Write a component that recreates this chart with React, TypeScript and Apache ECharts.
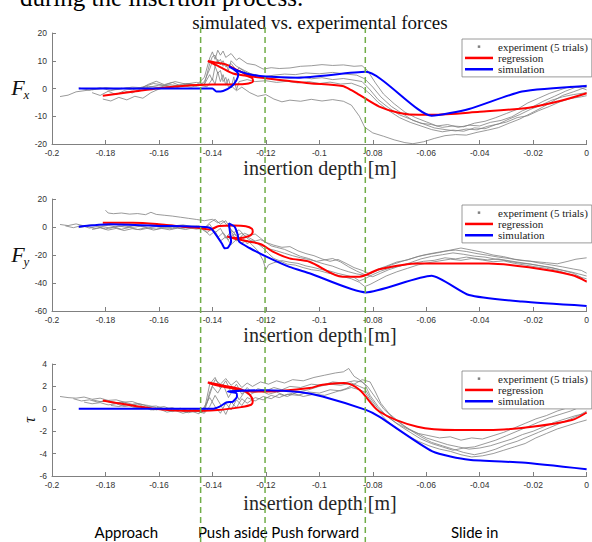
import React, { useEffect, useRef } from 'react';
import * as echarts from 'echarts';

// ---------- axes ----------
const xTicks = { min: -0.2, max: 0, interval: 0.02 };
const yAxesCfg = [
  { min: -20, max: 20, interval: 10 },
  { min: -60, max: 20, interval: 20 },
  { min: -6, max: 4, interval: 2 },
];
const phaseBoundaries = [-0.1444, -0.1203, -0.0828];
const phaseLabels = ['Approach', 'Push aside', 'Push forward', 'Slide in'];
const xLabelText = 'insertion depth [m]';
const titleText = 'simulated vs. experimental forces';
const legendNames = ['experiment (5 trials)', 'regression', 'simulation'];

// ---------- Fx panel ----------
const fxTrial1 = [[-0.185,-0.5],[-0.18,0.3],[-0.175,-0.2],[-0.17,0.5],[-0.165,0.2],[-0.16,1.2],[-0.155,0.8],[-0.15,1.8],[-0.146,1.2],[-0.143,4],[-0.141,11],[-0.14,13.2],[-0.139,10.5],[-0.138,13.8],[-0.137,12],[-0.136,13.5],[-0.135,11.2],[-0.133,12.6],[-0.131,10.2],[-0.13,11],[-0.127,9],[-0.124,8.5],[-0.121,7],[-0.118,7.5],[-0.115,7.2],[-0.111,7.4],[-0.107,8],[-0.103,8.2],[-0.099,8.6],[-0.095,8.3],[-0.091,8.5],[-0.087,8.0],[-0.084,8.2],[-0.082,6.5],[-0.079,2],[-0.076,-2],[-0.072,-5.5],[-0.068,-8.5],[-0.064,-10.5],[-0.06,-12],[-0.056,-13.5],[-0.052,-13],[-0.048,-14],[-0.044,-13.2],[-0.04,-13.5],[-0.036,-12.2],[-0.032,-11.5],[-0.028,-10.2],[-0.024,-8],[-0.02,-6.5],[-0.016,-4.5],[-0.012,-2.8],[-0.008,-1],[-0.004,0.5],[0,1.2]];
const fxTrial2 = [[-0.197,-2.9],[-0.194,-2.4],[-0.191,-1.2],[-0.188,-0.8],[-0.184,-0.3],[-0.18,0.1],[-0.176,-0.4],[-0.172,0.2],[-0.168,-0.2],[-0.164,0.8],[-0.16,0.4],[-0.156,1.4],[-0.152,0.9],[-0.148,1.6],[-0.145,1.0],[-0.143,2.5],[-0.141,7],[-0.14,9.8],[-0.139,8],[-0.138,10.5],[-0.137,8.5],[-0.136,10],[-0.135,7.8],[-0.133,9],[-0.131,6.5],[-0.13,7.4],[-0.127,5.5],[-0.124,5.0],[-0.121,4.2],[-0.117,4.8],[-0.113,5.2],[-0.109,5.0],[-0.105,5.6],[-0.1,5.3],[-0.095,5.8],[-0.09,5.2],[-0.086,4.8],[-0.083,3.5],[-0.08,0.5],[-0.077,-3],[-0.073,-6.5],[-0.069,-9],[-0.065,-11.5],[-0.061,-12.8],[-0.057,-14.2],[-0.053,-14.8],[-0.049,-15.3],[-0.045,-14.6],[-0.041,-14.9],[-0.037,-13.6],[-0.033,-12.8],[-0.029,-11],[-0.025,-9.4],[-0.021,-7.5],[-0.017,-6],[-0.013,-4.2],[-0.009,-3],[-0.005,-2.2],[0,-1.5]];
const fxTrial3 = [[-0.181,-3.8],[-0.178,-4.5],[-0.175,-3.2],[-0.172,-4.1],[-0.169,-2.8],[-0.166,-3.5],[-0.163,-1.5],[-0.16,-0.2],[-0.157,0.6],[-0.154,0.1],[-0.151,1.0],[-0.148,0.5],[-0.145,1.2],[-0.142,0.6],[-0.14,3.5],[-0.139,1.5],[-0.138,6],[-0.137,2.5],[-0.136,5],[-0.135,1.2],[-0.134,3.5],[-0.133,0.2],[-0.132,4.2],[-0.131,-0.5],[-0.13,2.5],[-0.127,3.2],[-0.124,2.5],[-0.12,2.8],[-0.116,2.2],[-0.112,2.6],[-0.108,2.0],[-0.104,2.5],[-0.1,1.8],[-0.096,2.3],[-0.092,1.6],[-0.088,1.9],[-0.084,0.5],[-0.081,-2],[-0.078,-5],[-0.074,-8],[-0.07,-10.5],[-0.066,-12.2],[-0.062,-13.5],[-0.058,-14.8],[-0.054,-15.6],[-0.05,-15],[-0.046,-15.4],[-0.042,-14.2],[-0.038,-14.5],[-0.034,-13],[-0.03,-12.1],[-0.026,-10.5],[-0.022,-9.8],[-0.018,-8],[-0.014,-6.5],[-0.01,-4.8],[-0.006,-3.6],[-0.002,-3],[0,-2.6]];
const fxTrial4 = [[-0.19,0.2],[-0.186,-0.6],[-0.182,0.3],[-0.178,-0.8],[-0.174,0.1],[-0.17,-0.5],[-0.166,0.6],[-0.162,1.8],[-0.158,1.2],[-0.154,2.5],[-0.15,1.6],[-0.146,2.2],[-0.143,1.5],[-0.141,5],[-0.14,3],[-0.139,8],[-0.138,5.5],[-0.137,6.5],[-0.136,2.5],[-0.135,4],[-0.134,0.5],[-0.133,1],[-0.131,-0.8],[-0.129,0.5],[-0.126,-1.5],[-0.123,-2.8],[-0.12,-2.2],[-0.117,-3.8],[-0.114,-4.8],[-0.111,-4.2],[-0.107,-4.6],[-0.103,-3.9],[-0.099,-4.5],[-0.095,-4.0],[-0.091,-4.6],[-0.088,-6],[-0.085,-10],[-0.083,-14],[-0.08,-16],[-0.076,-17.2],[-0.072,-18.5],[-0.068,-19.5],[-0.065,-19.9],[-0.061,-19.2],[-0.057,-18],[-0.053,-17],[-0.049,-16.6],[-0.045,-16.8],[-0.041,-15.8],[-0.037,-15],[-0.033,-14.1],[-0.029,-12.5],[-0.025,-11],[-0.021,-9],[-0.017,-7],[-0.013,-4.8],[-0.009,-2.5],[-0.005,-1.2],[-0.001,0.2],[0,0.4]];
const fxTrial5 = [[-0.185,-1.5],[-0.182,-2.5],[-0.179,-1.0],[-0.176,-2.2],[-0.173,-0.8],[-0.17,-1.6],[-0.167,-0.2],[-0.164,1.5],[-0.161,2.6],[-0.158,1.4],[-0.155,2.2],[-0.152,1.0],[-0.149,1.8],[-0.146,0.8],[-0.143,1.5],[-0.141,9],[-0.14,11.5],[-0.139,12],[-0.138,9.5],[-0.137,10.5],[-0.136,8],[-0.135,9],[-0.134,6.5],[-0.133,10],[-0.131,8],[-0.128,6.5],[-0.125,5],[-0.122,4.4],[-0.119,3.6],[-0.115,4.0],[-0.111,3.7],[-0.107,4.2],[-0.103,3.5],[-0.099,3.9],[-0.095,3.2],[-0.091,3.6],[-0.087,3.0],[-0.084,2.5],[-0.081,-0.5],[-0.078,-4],[-0.074,-7],[-0.07,-9.5],[-0.066,-11],[-0.062,-12.5],[-0.058,-13],[-0.054,-14],[-0.05,-13.5],[-0.046,-13.8],[-0.042,-12.5],[-0.038,-11.8],[-0.034,-10.5],[-0.03,-9],[-0.026,-7.5],[-0.022,-5.2],[-0.018,-3.5],[-0.014,-1.8],[-0.01,-0.5],[-0.006,0.8],[-0.002,0.2],[0,-0.5]];
const fxRegression = [[-0.181,-2.6],[-0.17,-1.2],[-0.16,0.1],[-0.15,1.0],[-0.14,1.4],[-0.13,1.5],[-0.1265,1.8],[-0.1248,2.6],[-0.1252,3.8],[-0.128,4.7],[-0.1323,5.4],[-0.1365,7.4],[-0.1385,8.4],[-0.1417,9.9],[-0.139,9.4],[-0.1348,8.6],[-0.13,6.3],[-0.1249,4.3],[-0.12,3.7],[-0.1112,2.7],[-0.1037,1.9],[-0.0914,0.9],[-0.088,-0.6],[-0.085,-2.3],[-0.0776,-6.5],[-0.07,-8.8],[-0.0627,-9.5],[-0.058,-9.5],[-0.04,-8.4],[-0.0216,-6.9],[-0.01,-4.5],[0,-1.7]];
const fxSimulation = [[-0.19,0],[-0.16,0],[-0.14,0],[-0.1385,-1.1],[-0.136,-0.9],[-0.133,0.6],[-0.131,3.0],[-0.1303,5.3],[-0.1322,7.0],[-0.1338,8.0],[-0.131,6.6],[-0.127,5.3],[-0.12,4.3],[-0.108,3.9],[-0.0826,6.0],[-0.058,-9.8],[-0.044,-7.4],[-0.0242,-1.1],[0,0.9]];

// ---------- Fy panel ----------
const fyTrial1 = [[-0.18,12],[-0.179,10],[-0.177,9.5],[-0.174,10],[-0.171,9.2],[-0.168,9.6],[-0.165,8.8],[-0.163,10.5],[-0.161,9.0],[-0.158,8.4],[-0.155,7.8],[-0.152,7.0],[-0.149,6.2],[-0.146,5.4],[-0.143,4.5],[-0.14,5.5],[-0.138,3],[-0.136,4.5],[-0.134,0],[-0.132,-4],[-0.13,-2],[-0.128,-6],[-0.126,-8],[-0.124,-10],[-0.122,-9],[-0.12,-11],[-0.117,-13],[-0.114,-14.5],[-0.111,-14],[-0.108,-17],[-0.105,-19],[-0.102,-20.5],[-0.099,-22.8],[-0.096,-24.5],[-0.093,-23.2],[-0.09,-26],[-0.087,-29],[-0.084,-31],[-0.081,-33.5],[-0.078,-30],[-0.075,-28],[-0.071,-25],[-0.067,-23.5],[-0.063,-21],[-0.059,-19.5],[-0.055,-18.2],[-0.051,-16.5],[-0.047,-15],[-0.043,-16.5],[-0.039,-18],[-0.035,-20],[-0.031,-21.2],[-0.027,-23],[-0.023,-24],[-0.019,-24.8],[-0.015,-25.5],[-0.011,-26.3],[-0.007,-24.5],[-0.004,-23],[0,-22]];
const fyTrial2 = [[-0.197,1.8],[-0.194,1.0],[-0.191,2.2],[-0.188,0.8],[-0.185,1.6],[-0.182,0.5],[-0.179,1.2],[-0.176,0],[-0.173,0.9],[-0.17,-0.3],[-0.167,0.5],[-0.164,-0.6],[-0.161,0.2],[-0.158,-0.8],[-0.155,-0.2],[-0.152,-1.0],[-0.149,-0.5],[-0.146,-1.5],[-0.143,-0.8],[-0.141,3],[-0.139,5.5],[-0.137,2],[-0.135,4.5],[-0.133,-2],[-0.131,-6],[-0.129,-4.5],[-0.127,-8],[-0.125,-10.5],[-0.123,-12],[-0.121,-15],[-0.119,-19],[-0.117,-22.5],[-0.115,-24],[-0.112,-26.5],[-0.109,-27.2],[-0.106,-29],[-0.103,-30.5],[-0.1,-31.2],[-0.097,-32.8],[-0.094,-34],[-0.091,-35.5],[-0.088,-37],[-0.085,-39.5],[-0.083,-42.5],[-0.081,-41],[-0.078,-38],[-0.075,-35],[-0.071,-32],[-0.067,-29.5],[-0.063,-27],[-0.059,-25.5],[-0.055,-24.2],[-0.051,-23],[-0.047,-23.8],[-0.043,-22.5],[-0.039,-23.6],[-0.035,-24.8],[-0.031,-24.2],[-0.027,-26],[-0.023,-27.2],[-0.019,-28.5],[-0.015,-29.5],[-0.011,-31],[-0.007,-33.5],[-0.003,-35.5],[0,-37]];
const fyTrial3 = [[-0.19,-0.5],[-0.187,0.6],[-0.184,-1.2],[-0.181,0.2],[-0.178,-0.8],[-0.175,0.8],[-0.172,-0.4],[-0.169,1.2],[-0.166,0.3],[-0.163,1.5],[-0.16,0.6],[-0.157,1.8],[-0.154,0.9],[-0.151,1.5],[-0.148,0.5],[-0.145,0.8],[-0.143,-2],[-0.141,-6],[-0.139,-3],[-0.137,-10],[-0.135,-7],[-0.133,-12.5],[-0.131,-9],[-0.129,-11.5],[-0.127,-9.5],[-0.125,-13],[-0.123,-17],[-0.121,-24],[-0.12,-30.5],[-0.119,-27],[-0.117,-25.5],[-0.114,-24],[-0.111,-25.2],[-0.108,-26],[-0.105,-27.8],[-0.102,-29],[-0.099,-30.5],[-0.096,-31.5],[-0.093,-33.2],[-0.09,-34.5],[-0.087,-36],[-0.085,-38.5],[-0.083,-37],[-0.08,-34],[-0.077,-31.5],[-0.073,-29],[-0.069,-27.5],[-0.065,-26],[-0.061,-24.5],[-0.057,-23.8],[-0.053,-22],[-0.049,-22.8],[-0.045,-21.5],[-0.041,-22.6],[-0.037,-23.5],[-0.033,-22.8],[-0.029,-24.5],[-0.025,-25.8],[-0.021,-26.5],[-0.017,-27.8],[-0.013,-29],[-0.009,-31],[-0.005,-33],[-0.002,-36],[0,-39.5]];
const fyTrial4 = [[-0.195,0.8],[-0.192,-0.5],[-0.189,1.0],[-0.186,-0.8],[-0.183,0.4],[-0.18,-1.4],[-0.177,0],[-0.174,-1.6],[-0.171,-0.3],[-0.168,-1.8],[-0.165,-0.6],[-0.162,-2.2],[-0.159,-1.0],[-0.156,-2.0],[-0.153,-0.8],[-0.15,-1.8],[-0.147,-0.5],[-0.144,-1.5],[-0.142,-4],[-0.14,-1],[-0.138,-7.5],[-0.136,-4],[-0.134,-9],[-0.132,-5],[-0.13,-8],[-0.128,-4.5],[-0.126,-6],[-0.124,-5],[-0.122,-8],[-0.12,-11],[-0.118,-13.5],[-0.116,-14.5],[-0.113,-16],[-0.11,-18.5],[-0.107,-21],[-0.104,-22.5],[-0.101,-24.8],[-0.098,-26.5],[-0.095,-28],[-0.092,-30.2],[-0.089,-32],[-0.086,-33.5],[-0.083,-34.5],[-0.08,-32.5],[-0.077,-30],[-0.073,-27],[-0.069,-24.5],[-0.065,-22.2],[-0.061,-20],[-0.057,-18.5],[-0.053,-17.2],[-0.049,-16.5],[-0.045,-17.5],[-0.041,-19],[-0.037,-20.2],[-0.033,-21.5],[-0.029,-22.5],[-0.025,-23.8],[-0.021,-24.5],[-0.017,-26],[-0.013,-27.2],[-0.009,-28.5],[-0.005,-30],[-0.002,-31],[0,-33]];
const fyTrial5 = [[-0.185,-1.8],[-0.182,-0.6],[-0.179,-2.2],[-0.176,-1.0],[-0.173,-2.5],[-0.17,-1.2],[-0.167,-2.0],[-0.164,-0.8],[-0.161,-1.5],[-0.158,-0.4],[-0.155,-1.2],[-0.152,0.2],[-0.149,-0.6],[-0.146,0.5],[-0.143,-1],[-0.141,2],[-0.139,-4],[-0.137,-1],[-0.135,-8],[-0.133,-3],[-0.131,-10],[-0.129,-7],[-0.127,-12],[-0.125,-9.5],[-0.122,-13],[-0.119,-15.5],[-0.116,-17],[-0.113,-18.8],[-0.11,-20.5],[-0.107,-22],[-0.104,-23.2],[-0.101,-24.5],[-0.098,-23.5],[-0.095,-22.5],[-0.092,-25],[-0.089,-28.5],[-0.086,-31.5],[-0.083,-34],[-0.08,-35.5],[-0.077,-33],[-0.074,-30.5],[-0.07,-28],[-0.066,-25.5],[-0.062,-22.8],[-0.058,-21],[-0.054,-19.8],[-0.05,-18.5],[-0.046,-19.5],[-0.042,-20.8],[-0.038,-21.5],[-0.034,-23],[-0.03,-23.8],[-0.026,-25],[-0.022,-26.2],[-0.018,-27.5],[-0.014,-28.8],[-0.01,-30.5],[-0.006,-32],[-0.003,-33.5],[0,-35]];
const fyRegression = [[-0.181,3.1],[-0.1697,3.1],[-0.16,2.0],[-0.151,0.2],[-0.1455,-0.6],[-0.141,-1.8],[-0.1375,0.7],[-0.132,1.1],[-0.1275,0.6],[-0.1252,-1.2],[-0.1249,-3.6],[-0.1262,-6.4],[-0.13,-8.0],[-0.1336,-7.2],[-0.1345,-6.8],[-0.131,-8.6],[-0.126,-10.5],[-0.1216,-12.5],[-0.1174,-17.6],[-0.1112,-22.4],[-0.1037,-24.8],[-0.0913,-35.5],[-0.085,-35.5],[-0.0776,-30.2],[-0.0627,-26],[-0.0366,-26],[-0.0216,-28.8],[-0.0056,-34.3],[0,-39]];
const fySimulation = [[-0.19,0.2],[-0.1784,1.9],[-0.16,0.8],[-0.141,-0.5],[-0.1385,-6],[-0.1364,-12],[-0.1354,-15.2],[-0.1343,-15],[-0.133,-10.5],[-0.1336,-1],[-0.1338,2.6],[-0.1317,0.2],[-0.1305,-5.7],[-0.13,-10.5],[-0.1261,-15],[-0.12,-21],[-0.1112,-28.5],[-0.1037,-33],[-0.0826,-46.7],[-0.058,-34.8],[-0.044,-48.6],[-0.0242,-53.3],[0,-56.4]];

// ---------- tau panel ----------
const tauTrial1 = [[-0.197,1.1],[-0.194,1.0],[-0.191,0.95],[-0.188,1.05],[-0.185,0.85],[-0.182,0.95],[-0.179,0.75],[-0.176,0.8],[-0.173,0.6],[-0.17,0.65],[-0.167,0.4],[-0.164,0.3],[-0.161,0.1],[-0.158,0.2],[-0.155,-0.1],[-0.152,0.05],[-0.149,-0.2],[-0.146,-0.05],[-0.143,-0.3],[-0.141,1.5],[-0.139,2.6],[-0.137,2.2],[-0.135,2.7],[-0.133,2.1],[-0.131,2.5],[-0.129,1.9],[-0.127,2.3],[-0.125,2.0],[-0.122,2.4],[-0.119,2.2],[-0.116,2.5],[-0.113,2.3],[-0.11,2.6],[-0.106,2.5],[-0.102,2.8],[-0.098,3.0],[-0.094,3.2],[-0.091,3.3],[-0.089,3.6],[-0.087,2.9],[-0.085,2.6],[-0.083,2.2],[-0.081,1.2],[-0.078,0.2],[-0.075,-0.6],[-0.071,-1.3],[-0.067,-1.8],[-0.063,-2.2],[-0.059,-2.4],[-0.055,-2.6],[-0.051,-2.5],[-0.047,-2.8],[-0.043,-2.6],[-0.039,-2.7],[-0.035,-2.4],[-0.031,-2.1],[-0.027,-1.7],[-0.023,-1.3],[-0.019,-0.9],[-0.015,-0.6],[-0.011,-0.2],[-0.007,0.1],[-0.003,0.3],[0,0.5]];
const tauTrial2 = [[-0.192,0.9],[-0.189,0.7],[-0.186,0.8],[-0.183,0.6],[-0.18,0.7],[-0.177,0.5],[-0.174,0.6],[-0.171,0.35],[-0.168,0.45],[-0.165,0.1],[-0.162,-0.1],[-0.159,0.05],[-0.156,-0.2],[-0.153,-0.05],[-0.15,-0.3],[-0.147,-0.1],[-0.144,-0.35],[-0.142,0.5],[-0.14,2.0],[-0.138,1.4],[-0.136,2.2],[-0.134,1.0],[-0.132,1.8],[-0.13,0.8],[-0.128,1.5],[-0.126,1.2],[-0.123,1.8],[-0.12,1.6],[-0.117,1.9],[-0.114,1.7],[-0.111,2.0],[-0.107,1.9],[-0.103,2.2],[-0.099,2.1],[-0.095,2.4],[-0.091,2.3],[-0.087,2.5],[-0.084,2.4],[-0.082,2.0],[-0.079,1.0],[-0.076,0],[-0.072,-0.9],[-0.068,-1.6],[-0.064,-2.1],[-0.06,-2.6],[-0.056,-2.9],[-0.052,-3.2],[-0.048,-3.4],[-0.044,-3.6],[-0.04,-3.5],[-0.036,-3.3],[-0.032,-3.0],[-0.028,-2.7],[-0.024,-2.3],[-0.02,-2.0],[-0.016,-1.6],[-0.012,-1.2],[-0.008,-0.9],[-0.004,-0.6],[0,-0.4]];
const tauTrial3 = [[-0.188,0.6],[-0.185,0.45],[-0.182,0.55],[-0.179,0.35],[-0.176,0.45],[-0.173,0.2],[-0.17,0.3],[-0.167,0.05],[-0.164,0.15],[-0.161,-0.1],[-0.158,0.05],[-0.155,-0.25],[-0.152,-0.1],[-0.149,-0.35],[-0.146,-0.2],[-0.143,-0.4],[-0.141,0.2],[-0.139,1.2],[-0.137,0.4],[-0.135,-0.5],[-0.133,0.6],[-0.131,0.1],[-0.129,0.9],[-0.127,0.5],[-0.124,1.0],[-0.121,0.8],[-0.118,1.2],[-0.115,1.0],[-0.112,1.3],[-0.108,1.2],[-0.104,1.5],[-0.1,1.4],[-0.096,1.7],[-0.092,1.6],[-0.088,1.9],[-0.085,1.7],[-0.083,1.5],[-0.081,0.8],[-0.078,-0.2],[-0.075,-1.0],[-0.071,-1.8],[-0.067,-2.4],[-0.063,-2.9],[-0.059,-3.3],[-0.055,-3.6],[-0.051,-3.8],[-0.047,-4.1],[-0.043,-4.3],[-0.039,-4.2],[-0.035,-4.0],[-0.031,-3.7],[-0.027,-3.4],[-0.023,-3.1],[-0.019,-2.6],[-0.015,-2.2],[-0.011,-1.8],[-0.007,-1.5],[-0.003,-1.2],[0,-1.0]];
const tauTrial4 = [[-0.185,0.8],[-0.182,0.65],[-0.179,0.7],[-0.176,0.55],[-0.173,0.6],[-0.17,0.4],[-0.167,0.45],[-0.164,0.2],[-0.161,0.25],[-0.158,0],[-0.155,0.1],[-0.152,-0.15],[-0.149,0],[-0.146,-0.25],[-0.143,-0.1],[-0.141,2.2],[-0.139,2.8],[-0.137,1.8],[-0.135,2.5],[-0.133,1.5],[-0.131,2.2],[-0.129,1.3],[-0.127,1.9],[-0.125,1.4],[-0.122,1.6],[-0.119,1.3],[-0.116,1.5],[-0.113,1.2],[-0.11,1.4],[-0.106,1.1],[-0.102,1.3],[-0.098,1.2],[-0.094,1.5],[-0.09,1.8],[-0.087,2.2],[-0.084,2.6],[-0.081,2.4],[-0.079,1.5],[-0.077,0.5],[-0.074,-0.4],[-0.07,-1.2],[-0.066,-1.9],[-0.062,-2.5],[-0.058,-3.0],[-0.054,-3.3],[-0.05,-3.6],[-0.046,-3.9],[-0.042,-4.1],[-0.038,-3.9],[-0.034,-3.6],[-0.03,-3.2],[-0.026,-2.9],[-0.022,-2.5],[-0.018,-2.1],[-0.014,-1.7],[-0.01,-1.3],[-0.006,-0.9],[-0.003,-0.6],[0,-0.2]];
const tauTrial5 = [[-0.178,0.3],[-0.175,0.2],[-0.172,0.35],[-0.169,0.1],[-0.166,0.2],[-0.163,-0.1],[-0.16,0],[-0.157,-0.3],[-0.154,-0.15],[-0.151,-0.4],[-0.148,-0.2],[-0.145,-0.45],[-0.143,0.2],[-0.141,1.0],[-0.139,0.2],[-0.137,-0.4],[-0.135,0.5],[-0.133,-0.1],[-0.131,0.8],[-0.129,0.3],[-0.127,1.0],[-0.124,0.7],[-0.121,1.1],[-0.118,0.9],[-0.115,1.3],[-0.112,1.1],[-0.108,1.5],[-0.104,1.7],[-0.1,2.0],[-0.096,2.2],[-0.092,2.1],[-0.088,2.3],[-0.085,2.0],[-0.083,1.8],[-0.081,1.0],[-0.078,0],[-0.074,-0.8],[-0.07,-1.5],[-0.066,-2.1],[-0.062,-2.7],[-0.058,-3.1],[-0.054,-3.4],[-0.05,-3.7],[-0.046,-3.5],[-0.042,-3.4],[-0.038,-3.1],[-0.034,-2.8],[-0.03,-2.4],[-0.026,-2.0],[-0.022,-1.6],[-0.018,-1.2],[-0.014,-0.8],[-0.01,-0.5],[-0.006,-0.2],[-0.003,0.1],[0,0.3]];
const tauRegression = [[-0.181,0.74],[-0.1634,0.06],[-0.151,-0.18],[-0.1379,-0.1],[-0.1292,0.15],[-0.1255,0.36],[-0.1249,0.65],[-0.126,1.25],[-0.129,1.7],[-0.1342,2.0],[-0.1404,2.3],[-0.1417,2.35],[-0.1392,2.15],[-0.133,1.85],[-0.1255,1.55],[-0.1193,1.55],[-0.1037,1.85],[-0.0988,2.15],[-0.0907,2.3],[-0.085,1.7],[-0.0776,-0.24],[-0.0633,-1.6],[-0.049,-1.9],[-0.0366,-1.9],[-0.0204,-1.6],[-0.0055,-1.0],[0,-0.33]];
const tauSimulation = [[-0.19,0],[-0.16,0],[-0.14,0],[-0.1373,0.2],[-0.1348,0.56],[-0.1323,0.65],[-0.1308,1.1],[-0.131,1.4],[-0.1342,1.55],[-0.12,1.65],[-0.1075,1.5],[-0.0988,1.1],[-0.0826,-0.1],[-0.0776,-0.7],[-0.0577,-3.8],[-0.044,-4.55],[-0.0242,-4.8],[0,-5.4]];

const panels = [
  { trials: [fxTrial1, fxTrial2, fxTrial3, fxTrial4, fxTrial5], regression: fxRegression, simulation: fxSimulation },
  { trials: [fyTrial1, fyTrial2, fyTrial3, fyTrial4, fyTrial5], regression: fyRegression, simulation: fySimulation },
  { trials: [tauTrial1, tauTrial2, tauTrial3, tauTrial4, tauTrial5], regression: tauRegression, simulation: tauSimulation },
];

// ---------- layout ----------
const W = 592;
const H = 542;
const gridLayout = [
  { top: 33, height: 111 },
  { top: 199, height: 112 },
  { top: 364, height: 112 },
];
const GRID_LEFT = 52;
const GRID_WIDTH = 536;
const legendTops = [39, 205, 371];
const xLabelYs = [168, 335, 503];
const SERIF = 'Liberation Serif';
const SANS = 'Liberation Sans';
const GREY = '#808080';

export default function App() {
  const ref = useRef<HTMLDivElement>(null);

  useEffect(() => {
    if (!ref.current) return;
    const chart = echarts.init(ref.current, undefined, { renderer: 'svg' });

    const grid = gridLayout.map((g) => ({ left: GRID_LEFT, width: GRID_WIDTH, top: g.top, height: g.height }));

    const xAxis = gridLayout.map((_, i) => ({
      type: 'value',
      gridIndex: i,
      min: xTicks.min,
      max: xTicks.max,
      interval: xTicks.interval,
      axisLine: { onZero: false, lineStyle: { color: GREY, width: 1 } },
      axisTick: { inside: true, length: 4, lineStyle: { color: GREY } },
      splitLine: { show: false },
      axisLabel: {
        color: '#333',
        fontSize: 8.5,
        fontFamily: SANS,
        margin: 4,
        formatter: (v: number) => String(Math.round(v * 100) / 100),
      },
    }));

    const yAxis = yAxesCfg.map((c, i) => ({
      type: 'value',
      gridIndex: i,
      min: c.min,
      max: c.max,
      interval: c.interval,
      axisLine: { show: true, onZero: false, lineStyle: { color: GREY, width: 1 } },
      axisTick: { show: true, inside: true, length: 4, lineStyle: { color: GREY } },
      splitLine: { show: false },
      axisLabel: { color: '#333', fontSize: 8.5, fontFamily: SANS, margin: 5 },
    }));

    const series: any[] = [];
    panels.forEach((p, i) => {
      p.trials.forEach((t) => {
        series.push({
          type: 'line',
          name: legendNames[0],
          xAxisIndex: i,
          yAxisIndex: i,
          data: t,
          showSymbol: false,
          color: GREY,
          lineStyle: { color: GREY, width: 0.8 },
          z: 2,
        });
      });
      series.push({
        type: 'line',
        name: legendNames[1],
        xAxisIndex: i,
        yAxisIndex: i,
        data: p.regression,
        showSymbol: false,
        smooth: 0.3,
        color: '#ff0000',
        lineStyle: { color: '#ff0000', width: 2 },
        z: 3,
      });
      series.push({
        type: 'line',
        name: legendNames[2],
        xAxisIndex: i,
        yAxisIndex: i,
        data: p.simulation,
        showSymbol: false,
        smooth: 0.2,
        color: '#0000ff',
        lineStyle: { color: '#0000ff', width: 2 },
        z: 4,
      });
    });

    const legend = legendTops.map((top) => ({
      left: 462,
      top,
      orient: 'vertical',
      itemWidth: 28,
      itemHeight: 2.5,
      itemGap: 0,
      padding: [2, 4, 2, 3],
      borderColor: GREY,
      borderWidth: 0.8,
      backgroundColor: '#fff',
      selectedMode: false,
      textStyle: { fontFamily: SERIF, fontSize: 11, color: '#222', lineHeight: 11.3 },
      data: [
        { name: legendNames[0], icon: 'path://M0,0h1v1h-1z' },
        { name: legendNames[1], icon: 'rect' },
        { name: legendNames[2], icon: 'rect' },
      ],
    }));

    chart.setOption({
      animation: false,
      backgroundColor: '#fff',
      grid,
      xAxis,
      yAxis,
      legend,
      series,
    });

    const elements: any[] = [];
    // caption text partly outside the top edge (as in the reference)
    elements.push({
      type: 'text', left: 20, top: -15, z: 50,
      style: { text: 'during the insertion process.', font: `25px "${SERIF}"`, fill: '#000' },
    });
    elements.push({
      type: 'text', x: 320, y: 22, z: 50,
      style: { text: titleText, font: `19px "${SERIF}"`, fill: '#111', align: 'center', verticalAlign: 'middle' },
    });
    xLabelYs.forEach((y) => {
      elements.push({
        type: 'text', x: 320, y, z: 50,
        style: { text: xLabelText, font: `20px "${SERIF}"`, fill: '#262626', align: 'center', verticalAlign: 'middle' },
      });
    });
    // y labels
    const fLabels = [
      { sub: 'x', g: 0 },
      { sub: 'y', g: 1 },
    ];
    fLabels.forEach(({ sub, g }) => {
      const cy = gridLayout[g].top + gridLayout[g].height / 2;
      elements.push({
        type: 'text', x: 18, y: cy - 1, z: 50,
        style: { text: 'F', font: `italic 22px "${SERIF}"`, fill: '#111', align: 'center', verticalAlign: 'middle' },
      });
      elements.push({
        type: 'text', x: 26.5, y: cy + 6, z: 50,
        style: { text: sub, font: `italic 13px "${SERIF}"`, fill: '#111', align: 'center', verticalAlign: 'middle' },
      });
    });
    {
      const cy = gridLayout[2].top + gridLayout[2].height / 2;
      elements.push({
        type: 'text', x: 29, y: cy, rotation: Math.PI / 2, z: 50,
        style: { text: 'τ', font: `italic 16px "${SERIF}"`, fill: '#111', align: 'center', verticalAlign: 'middle' },
      });
    }

    // phase boundary lines and labels
    const bx = phaseBoundaries.map((v) => chart.convertToPixel({ xAxisIndex: 0 }, v) as number);
    bx.forEach((x) => {
      elements.push({
        type: 'line', z: 60,
        shape: { x1: x, y1: 27, x2: x, y2: H },
        style: { stroke: '#70AD47', lineWidth: 1.5, lineDash: [6, 4] },
      });
    });
    const edges = [GRID_LEFT, ...bx, W - 8];
    phaseLabels.forEach((label, i) => {
      elements.push({
        type: 'text', x: (edges[i] + edges[i + 1]) / 2, y: 532, z: 50,
        style: { text: label, font: `15px Lato, "Open Sans", sans-serif`, fill: '#000', align: 'center', verticalAlign: 'middle' },
      });
    });

    chart.setOption({ graphic: { elements } });

    return () => chart.dispose();
  }, []);

  return <div ref={ref} style={{ position: 'fixed', left: 0, top: 0, width: W, height: H }} />;
}
